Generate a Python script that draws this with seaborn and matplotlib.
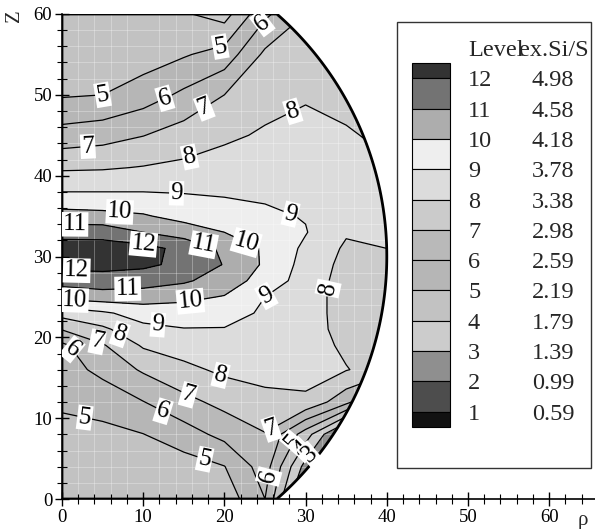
import numpy as np
import matplotlib
matplotlib.use("Agg")
import matplotlib.pyplot as plt
import seaborn as sns
from matplotlib.patches import Polygon, Rectangle
from matplotlib.ticker import MultipleLocator

rho_nodes = [0, 5, 10, 15, 20, 25, 30, 35, 40]
z_nodes = [0, 4, 8, 12, 16, 19, 21, 23, 25, 27, 29, 31, 33, 35, 38, 41, 45, 50, 55, 60]

# level value along z for each rho column
level_rho0 = [4.4, 4.5, 4.8, 5.1, 5.5, 5.8, 7.05, 8.4, 10.3, 11.4, 12.3, 12.5, 11.6, 10.4, 9.0, 7.85, 6.4, 4.9, 4.5, 4.4]
level_rho5 = [4.4, 4.5, 4.8, 5.3, 6.3, 6.9, 7.8, 8.85, 10.5, 11.6, 12.3, 12.45, 11.6, 10.3, 9.0, 7.9, 6.6, 5.0, 4.6, 4.4]
level_rho10 = [4.4, 4.6, 4.98, 5.97, 7.13, 8.12, 8.75, 9.4, 10.5, 11.43, 12.2, 12.35, 11.0, 10.1, 9.0, 8.05, 6.97, 5.5, 4.5, 4.3]
level_rho15 = [4.4, 4.55, 5.55, 6.7, 7.75, 8.45, 8.95, 9.6, 10.2, 11.15, 11.75, 11.7, 10.55, 9.65, 8.95, 8.2, 7.45, 6.2, 4.9, 4.1]
level_rho20 = [4.4, 4.97, 6.3, 7.3, 8.2, 8.7, 8.95, 9.4, 9.95, 10.5, 10.95, 10.8, 10.0, 9.35, 8.9, 8.35, 7.85, 7.0, 5.4, 3.6]
level_rho25 = [6.0, 6.5, 6.95, 7.75, 8.3, 8.55, 8.7, 8.85, 9.0, 9.6, 9.85, 9.85, 9.6, 9.15, 8.85, 8.5, 8.1, 7.7, 7.2, 5.8]
level_rho30 = [1.2, 2.6, 4.5, 7.8, 8.4, 8.5, 8.5, 8.5, 8.5, 8.55, 8.65, 8.8, 9.05, 8.95, 8.75, 8.55, 8.3, 7.9, 7.6, 7.0]
level_rho35 = [0.5, 1.0, 1.2, 6.3, 8.05, 7.8, 7.6, 7.55, 7.55, 7.6, 7.7, 7.85, 8.1, 8.3, 8.35, 8.3, 8.1, 7.7, 7.4, 7.0]
level_rho40 = [0.5, 0.8, 1.0, 4.0, 7.5, 7.6, 7.5, 7.5, 7.5, 7.6, 7.8, 8.0, 8.3, 8.4, 8.3, 8.1, 7.8, 7.5, 7.2, 7.0]

level_numbers = [1, 2, 3, 4, 5, 6, 7, 8, 9, 10, 11, 12]
level_values = ["0.59", "0.99", "1.39", "1.79", "2.19", "2.59", "2.98",
                "3.38", "3.78", "4.18", "4.58", "4.98"]
# fill grey of each band, from below level 1 up to above level 12
band_grays = ["#121212", "#4d4d4d", "#8f8f8f", "#cccccc", "#c2c2c2", "#b6b6b6",
              "#b9b9b9", "#cbcbcb", "#dcdcdc", "#eeeeee", "#adadad", "#737373", "#333333"]

# where the level numbers sit on the lines
label_spots = [(5.0, 50.0), (12.7, 49.4), (17.6, 48.1), (19.5, 55.9), (24.8, 58.6),
               (3.2, 43.2), (15.8, 41.7), (28.4, 48.1), (14.1, 37.6), (28.1, 34.9),
               (7.1, 35.4), (22.8, 32.4), (1.6, 33.8), (10.0, 31.2), (17.4, 31.1),
               (1.8, 27.4), (1.6, 24.6), (8.1, 25.6), (15.8, 24.6), (11.8, 21.5),
               (25.2, 25.0), (7.1, 20.3), (4.4, 19.9), (1.0, 18.0), (19.5, 15.1),
               (15.5, 12.6), (12.4, 10.6), (2.8, 10.1), (17.6, 5.2), (32.6, 26.1),
               (26.0, 7.6), (25.4, 2.8), (28.6, 6.8), (29.8, 5.6), (30.8, 4.9)]

sns.set_theme(style="ticks")
plt.rcParams["font.family"] = ["Liberation Serif", "DejaVu Serif"]

fig = plt.figure(figsize=(5.95, 5.29), dpi=100)
ax = fig.add_axes([62 / 595, 30 / 529, 533 / 595, 485 / 529])

field = np.column_stack([level_rho0, level_rho5, level_rho10, level_rho15, level_rho20,
                         level_rho25, level_rho30, level_rho35, level_rho40])
R, Z = np.meshgrid(rho_nodes, z_nodes)

# domain: sphere of radius 40 centred on the axis at z = 30
half = np.arcsin(30 / 40)
theta = np.linspace(-half, half, 300)
dom_x = np.r_[0, 40 * np.cos(theta), 0]
dom_y = np.r_[0, 30 + 40 * np.sin(theta), 60]
dom_verts = np.column_stack([dom_x, dom_y])
clip = Polygon(dom_verts, closed=True, transform=ax.transData)

bounds = [-1] + level_numbers + [14]
cf = ax.contourf(R, Z, field, levels=bounds, colors=band_grays, zorder=1)
cf.set_clip_path(clip)
cl = ax.contour(R, Z, field, levels=level_numbers, colors="black", linewidths=0.9, zorder=2.6)
texts = ax.clabel(cl, levels=level_numbers, fmt=lambda v: f"{v:.0f}", fontsize=18,
                  inline=True, inline_spacing=2, manual=label_spots)
for t in texts:
    t.set_bbox(dict(boxstyle="square,pad=0.05", fc="white", ec="none"))
    t.set_zorder(4)
cl.set_clip_path(clip)

ax.add_patch(Polygon(dom_verts, closed=True, fill=False, ec="black", lw=2.0, zorder=3))

ax.set_xlim(0, 533 / 8.12)
ax.set_ylim(0, 60)
ax.xaxis.set_major_locator(MultipleLocator(10))
ax.xaxis.set_minor_locator(MultipleLocator(2))
ax.yaxis.set_major_locator(MultipleLocator(10))
ax.yaxis.set_minor_locator(MultipleLocator(2))
# faint white mesh, only visible over the grey fill
ax.set_axisbelow(False)
ax.grid(which="minor", color="white", alpha=0.35, lw=0.6)
ax.tick_params(which="major", direction="inout", length=10, width=1, labelsize=13.5,
               color="black", labelcolor="black", pad=2)
ax.tick_params(which="minor", direction="inout", length=7, width=0.8, color="black")
sns.despine(ax=ax)
for side in ["left", "bottom"]:
    ax.spines[side].set_color("black")
    ax.spines[side].set_linewidth(1.2)
ax.set_facecolor("white")

fig.text(15 / 595, 1 - 16 / 529, "Z", rotation=90, ha="center", va="center", fontsize=15)
fig.text(583 / 595, 1 - 520 / 529, "ρ", ha="center", va="center", fontsize=15)

# legend panel
lax = fig.add_axes([0, 0, 1, 1])
lax.set_xlim(0, 595)
lax.set_ylim(529, 0)
lax.axis("off")
lax.add_patch(Rectangle((397, 22), 194, 446, fill=False, ec="#333333", lw=1))
step = 30.3
top = 63
line_y = [78.3 + step * k for k in range(12)]
edges = [top] + line_y + [line_y[-1] + step / 2]
for k in range(13):
    gray = band_grays[12 - k]
    lax.add_patch(Rectangle((412, edges[k]), 38, edges[k + 1] - edges[k],
                            fc=gray, ec="black", lw=0.8))
for k, yy in enumerate(line_y):
    idx = 11 - k
    lax.text(468, yy + 2.5, str(level_numbers[idx]), ha="left", va="center", fontsize=17.5)
    lax.text(532, yy + 2.5, level_values[idx], ha="left", va="center", fontsize=17.5)
lax.text(468, 50, "Level", ha="left", va="center", fontsize=17.5)
lax.text(519, 50, "ex.Si/S", ha="left", va="center", fontsize=17.5)

fig.savefig("out.png", dpi=100)
